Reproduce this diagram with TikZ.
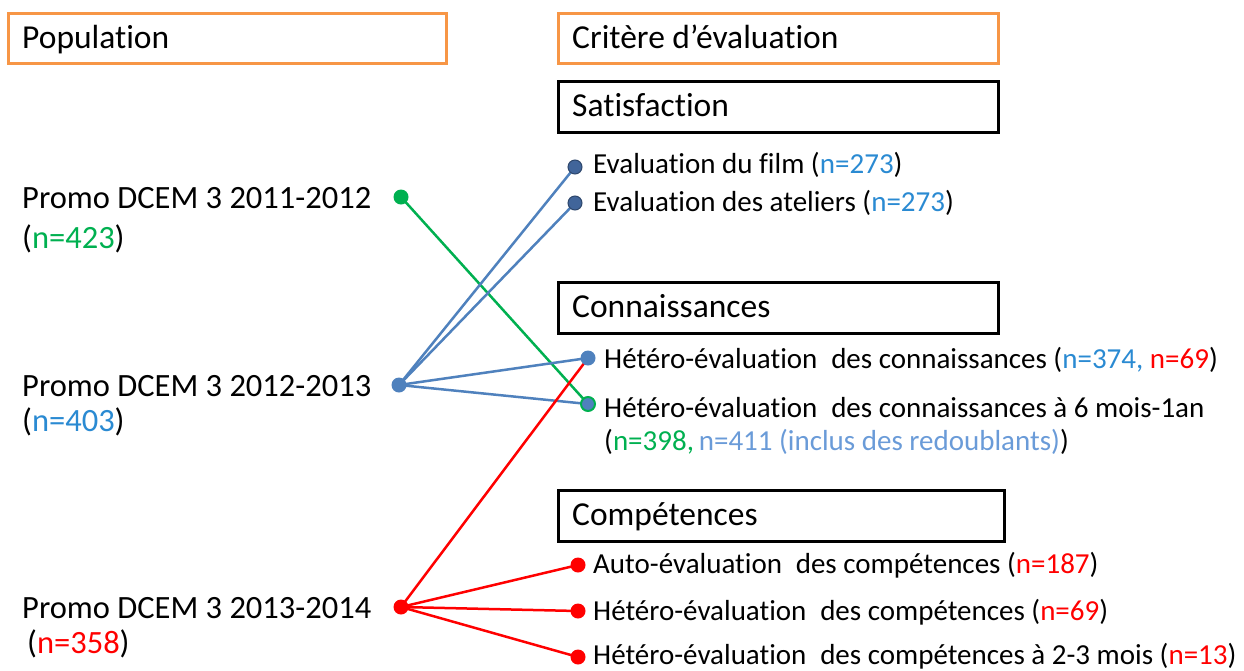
\documentclass[tikz,border=0pt]{standalone}
\usepackage{fontspec}
\setmainfont[Ligatures=NoCommon, RawFeature={-liga;-calt;-dlig;-clig}]{Carlito}
\usetikzlibrary{backgrounds}
\definecolor{orng}{HTML}{F79646}
\definecolor{lnblue}{HTML}{4F81BD}
\definecolor{dkblue}{HTML}{41659A}
\definecolor{txtblue}{HTML}{2A8AD2}
\definecolor{ltblue}{HTML}{6A9BD8}
\definecolor{grn}{HTML}{00B050}
\definecolor{rd}{HTML}{FF0000}
\tikzset{
  hdr/.style={draw=orng, line width=3pt, minimum height=50pt, anchor=north west, inner sep=0pt},
  catbox/.style={draw=black, line width=3pt, minimum height=51pt, anchor=north west, inner sep=0pt},
  lbl/.style={anchor=base west, inner sep=0pt, font=\fontsize{29}{34}\selectfont},
  hlbl/.style={anchor=base west, inner sep=0pt, font=\fontsize{33.5}{40}\selectfont},
  plbl/.style={anchor=base west, inner sep=0pt, font=\fontsize{32.5}{39}\selectfont},
  dot/.style={circle, inner sep=0pt, minimum size=15pt},
  conn/.style={line width=2.5pt},
}
\newcommand{\gap}{\hspace{0.25em}}
\begin{document}
\begin{tikzpicture}[x=1pt,y=-1pt]
\useasboundingbox (0,0) rectangle (1244,670);
% header boxes
\node[hdr, minimum width=438pt] (hpop) at (7,12) {};
\node[hlbl] (tpop) at (22,48) {Population};
\node[hdr, minimum width=440pt] (hcrit) at (557,12) {};
\node[hlbl] (tcrit) at (572,48) {Critère d’évaluation};
\node[catbox, minimum width=440pt] (bsat) at (557,80) {};
\node[hlbl] (tsat) at (572,116) {Satisfaction};
\node[catbox, minimum width=440pt] (bcon) at (557,281) {};
\node[hlbl] (tcon) at (572,317) {Connaissances};
\node[catbox, minimum width=446pt] (bcom) at (557,489) {};
\node[hlbl] (tcom) at (572,525) {Compétences};
% population labels
\node[plbl] (p1) at (22,208) {Promo DCEM 3 2011-2012};
\node[plbl] (p1n) at (22,248) {(\textcolor{grn}{n=423})};
\node[plbl] (p2) at (22,396) {Promo DCEM 3 2012-2013};
\node[plbl] (p2n) at (22,431) {(\textcolor{txtblue}{n=403})};
\node[plbl] (p3) at (22,618) {Promo DCEM 3 2013-2014};
\node[plbl] (p3n) at (27,653) {(\textcolor{rd}{n=358})};
% population dots
\node[dot, fill=grn] (d1) at (401,197) {};
\node[dot, fill=lnblue] (d2) at (399,385) {};
\node[dot, fill=rd] (d3) at (401,607) {};
% criterion dots
\node[dot, fill=dkblue, draw=dkblue!70!black, line width=1pt, minimum size=14pt] (s1) at (575,167) {};
\node[dot, fill=dkblue, draw=dkblue!70!black, line width=1pt, minimum size=14pt] (s2) at (575,203) {};
\node[dot, fill=lnblue] (k1) at (588,358) {};
\node[dot, fill=lnblue, draw=grn, line width=2pt, minimum size=14pt] (k2) at (588,404) {};
\node[dot, fill=rd] (c1) at (578,565) {};
\node[dot, fill=rd] (c2) at (578,611) {};
\node[dot, fill=rd] (c3) at (578,657) {};
% criterion labels
\node[lbl] (ts1) at (593,173) {Evaluation du film (\textcolor{txtblue}{n=273})};
\node[lbl] (ts2) at (593,211) {Evaluation des ateliers (\textcolor{txtblue}{n=273})};
\node[lbl] (tk1) at (604,368) {Hétéro-évaluation\gap{} des connaissances (\textcolor{txtblue}{n=374,} \textcolor{rd}{n=69})};
\node[lbl] (tk2) at (604,417) {Hétéro-évaluation\gap{} des connaissances à 6 mois-1an};
\node[lbl] (tk2b) at (604,450) {(\textcolor{grn}{n=398,}\,\textcolor{ltblue}{n=411 (inclus des redoublants)})};
\node[lbl] (tc1) at (593,573) {Auto-évaluation\gap{} des compétences (\textcolor{rd}{n=187})};
\node[lbl] (tc2) at (593,620) {Hétéro-évaluation\gap{} des compétences (\textcolor{rd}{n=69})};
\node[lbl] (tc3) at (593,664) {Hétéro-évaluation\gap{} des compétences à 2-3 mois (\textcolor{rd}{n=13})};
% connectors
\begin{scope}[on background layer]
\draw[conn, grn] (d1.center) -- (k2.center);
\draw[conn, lnblue] (d2.center) -- (s1.center);
\draw[conn, lnblue] (d2.center) -- (s2.center);
\draw[conn, lnblue] (d2.center) -- (k1.center);
\draw[conn, lnblue] (d2.center) -- (k2.center);
\draw[conn, rd] (d3.center) -- (k1.center);
\draw[conn, rd] (d3.center) -- (c1.center);
\draw[conn, rd] (d3.center) -- (c2.center);
\draw[conn, rd] (d3.center) -- (c3.center);
\end{scope}
\end{tikzpicture}
\end{document}
